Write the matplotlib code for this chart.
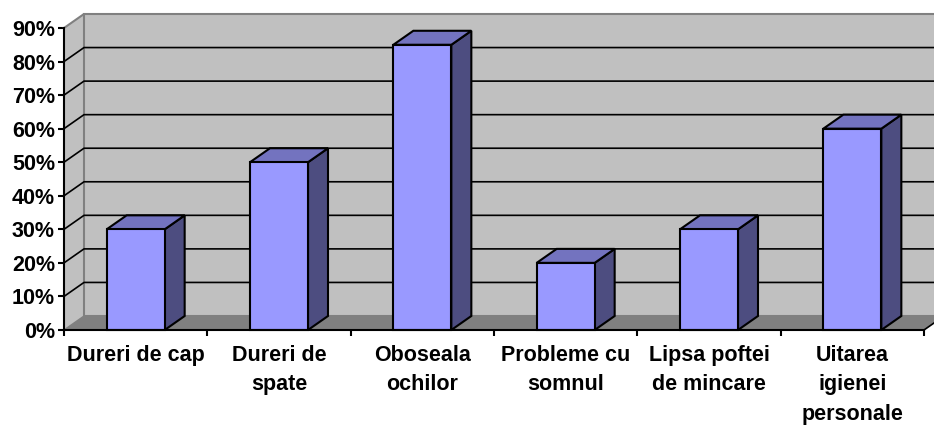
import matplotlib
matplotlib.use("Agg")
import matplotlib.pyplot as plt
from matplotlib.patches import Polygon

plt.rcParams['font.family'] = ['Liberation Sans', 'DejaVu Sans']

categories = ['Dureri de cap', 'Dureri de\nspate', 'Oboseala\nochilor',
              'Probleme cu\nsomnul', 'Lipsa poftei\nde mincare',
              'Uitarea\nigienei\npersonale']
values = [30, 50, 85, 20, 30, 60]
y_ticks = [0, 10, 20, 30, 40, 50, 60, 70, 80, 90]

W, H = 934, 425
fig = plt.figure(figsize=(W / 100, H / 100), dpi=100)
ax = fig.add_axes([64 / W, (H - 330) / H, 860 / W, 302 / H])
ax.set_xlim(-0.5, 5.5)
ax.set_ylim(0, 90)

# depth of the fake 3d box, in data units
dx = 20 / (860 / 6)
dy = 14 / (302 / 90)
bar_w = 58 / (860 / 6)
x0, x1 = -0.5, 5.5
y1 = y_ticks[-1]


def poly(pts, fc, ec='none', lw=0, z=1):
    ax.add_patch(Polygon(pts, closed=True, facecolor=fc, edgecolor=ec,
                         linewidth=lw, zorder=z, clip_on=False, joinstyle='miter'))


# walls and floor
poly([(x0 + dx, dy), (x1 + dx, dy), (x1 + dx, y1 + dy), (x0 + dx, y1 + dy)], '#c0c0c0')
poly([(x0, 0), (x0 + dx, dy), (x0 + dx, y1 + dy), (x0, y1)], '#c0c0c0')
poly([(x0, 0), (x1, 0), (x1 + dx, dy), (x0 + dx, dy)], '#808080')
ax.plot([x0, x0 + dx, x0 + dx, x1 + dx], [y1, y1 + dy, dy, dy], color='#808080',
        lw=1.5, zorder=2, clip_on=False, solid_joinstyle='miter')
ax.plot([x0 + dx, x1 + dx], [y1 + dy, y1 + dy], color='#808080', lw=1.5, zorder=2, clip_on=False)
ax.plot([x0, x0 + dx], [0, dy], color='#808080', lw=1, zorder=2, clip_on=False)
ax.plot([x1, x1 + dx], [0, dy], color='black', lw=1.2, zorder=3, clip_on=False)

# gridlines run up the side wall then along the back
for t in y_ticks[1:-1]:
    ax.plot([x0, x0 + dx, x1 + dx], [t, t + dy, t + dy], color='black', lw=1.2,
            zorder=3, clip_on=False)

# bars
for i, v in enumerate(values):
    l, r = i - bar_w / 2, i + bar_w / 2
    poly([(r, 0), (r + dx, dy), (r + dx, v + dy), (r, v)], '#4d4d80', 'black', 1.5, 5)
    poly([(l, v), (r, v), (r + dx, v + dy), (l + dx, v + dy)], '#7373bf', 'black', 1.5, 5)
    poly([(l, 0), (r, 0), (r, v), (l, v)], '#9999ff', 'black', 1.5, 6)

ax.patch.set_visible(False)
for s in ['top', 'right']:
    ax.spines[s].set_visible(False)
for s in ['left', 'bottom']:
    ax.spines[s].set_linewidth(1.5)
    ax.spines[s].set_zorder(7)

ax.set_yticks(y_ticks)
ax.set_yticklabels([f'{t}%' for t in y_ticks], fontsize=15.5, fontweight='bold')
ax.tick_params(axis='y', length=4.5, width=1.5, pad=2)

ax.set_xticks([i - 0.5 for i in range(7)])
ax.set_xticklabels([])
ax.tick_params(axis='x', which='major', length=4.5, width=1.5)
ax.set_xticks(range(6), minor=True)
ax.set_xticklabels(categories, minor=True, fontsize=15.5, fontweight='bold',
                   linespacing=1.53, clip_on=False)
ax.tick_params(axis='x', which='minor', length=0, pad=10.5)

fig.savefig('out.png', dpi=100)
